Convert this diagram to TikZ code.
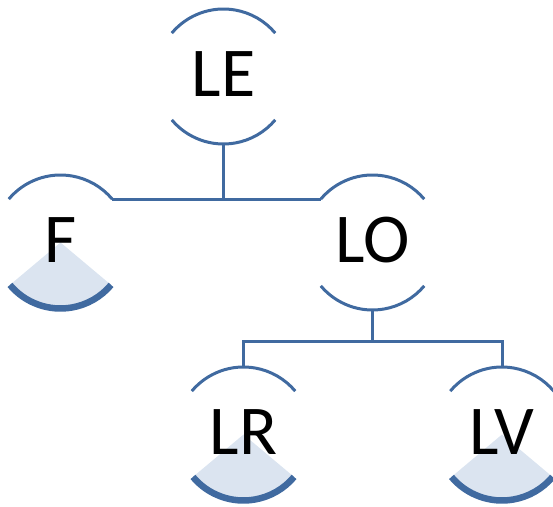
\documentclass[tikz,border=0pt]{standalone}
\usepackage{fontspec}
\setmainfont{Carlito}
\usepackage{tikz}
\usetikzlibrary{positioning,calc,backgrounds}
\definecolor{treeblue}{RGB}{64,106,160}
\definecolor{leafblue}{RGB}{219,228,240}

\begin{document}
\begin{tikzpicture}[x=1pt, y=1pt,
    member/.style={circle, minimum size=135pt, inner sep=0pt, outer sep=0pt, text depth=5pt, font=\fontsize{70}{84}\selectfont},
    rim/.style={draw=treeblue, line width=3pt},
    base/.style={draw=treeblue, line width=6.5pt},
    link/.style={draw=treeblue, line width=3pt}]
    \useasboundingbox (0,0) rectangle (553,506);

    \node[member] (le) at (223.5,429.5) {LE};
    \node[member] (f) at (60.5,263.5) {F};
    \node[member] (lo) at (372.5,263.5) {LO};
    \node[member] (lr) at (243.5,71.5) {LR};
    \node[member] (lv) at (502,71.5) {LV};

    % upper rims
    \foreach \n in {le,f,lo,lr,lv}
        \draw[rim] (\n.140) arc[start angle=140, end angle=40, radius=67.5pt];
    % lower rims of the inner members
    \foreach \n in {le,lo}
        \draw[rim] (\n.220) arc[start angle=220, end angle=320, radius=67.5pt];
    % leaves
    \begin{scope}[on background layer]
        \foreach \n in {f,lr,lv}
            \fill[leafblue] (\n.center) -- ($(\n.center)+(220:66pt)$) arc[start angle=220, end angle=320, radius=66pt] -- cycle;
    \end{scope}
    \foreach \n in {f,lr,lv}
        \draw[base] ($(\n.center)+(220:66pt)$) arc[start angle=220, end angle=320, radius=66pt];

    \draw[link] (le.south) |- (f.40);
    \draw[link] (le.south) |- (lo.140);
    \draw[link] (lo.south) -- ++(0,-31) -| (lr.north);
    \draw[link] (lo.south) -- ++(0,-31) -| (lv.north);
\end{tikzpicture}
\end{document}
